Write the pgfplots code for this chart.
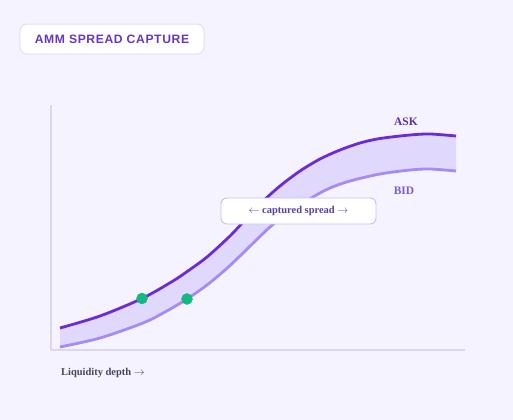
\documentclass[border=0pt]{standalone}
\usepackage{fontspec}
\setmainfont{Liberation Serif}
\newfontfamily\sansf{Liberation Sans}
\usepackage{pgfplots}
\pgfplotsset{compat=1.18}
\usepgfplotslibrary{fillbetween}
\definecolor{bg}{HTML}{F5F3FF}
\definecolor{askc}{HTML}{6D2BD6}
\definecolor{bidc}{HTML}{A68AF5}
\definecolor{fillc}{HTML}{DDD3FD}
\definecolor{axc}{HTML}{DCD7EE}
\definecolor{dotc}{HTML}{14B882}
\definecolor{asklab}{HTML}{5B2BB0}
\definecolor{bidlab}{HTML}{7B5CC8}
\definecolor{spreadtxt}{HTML}{5B3FA0}
\definecolor{titletxt}{HTML}{6737C0}
\definecolor{boxdraw}{HTML}{E3DDF6}
\definecolor{sboxdraw}{HTML}{C9BEF0}
\definecolor{xlab}{HTML}{4B4560}
\begin{document}
\begin{tikzpicture}
\begin{axis}[
  set layers,
  width=414bp, height=245bp, scale only axis,
  xmin=51, xmax=465, ymin=70, ymax=315,
  axis x line*=bottom, axis y line*=left,
  axis line style={draw=axc, line width=1.6bp, -},
  xtick=\empty, ytick=\empty,
  clip=false,
]
\begin{pgfonlayer}{axis background}
\fill[bg] (axis cs:0,0) rectangle (axis cs:513,420);
\end{pgfonlayer}
% ASK curve (pixel x, 420 - pixel y)
\addplot[name path=ask, draw=askc, line width=2.8bp, smooth, tension=0.5] coordinates {
(60,92) (100,104) (142,121.5) (173,139) (190,150.5) (207,163) (230,184) (245,200) (260,216) (280,234) (300,249) (320,261) (340,270) (360,277) (380,281.5) (410,285) (430,286) (456,284)
};
% BID curve
\addplot[name path=bid, draw=bidc, line width=2.8bp, smooth, tension=0.5] coordinates {
(60,73) (100,82) (143,97) (165,108) (187,121) (207,135) (225,150) (240,164) (270,193) (290,208) (313,223) (330,232) (350,239) (380,246) (410,250) (430,251) (456,249)
};
\addplot[fill=fillc, fill opacity=0.8, draw=none] fill between[of=ask and bid];
% Green markers
\addplot[only marks, mark=*, mark size=5.5bp, mark options={fill=dotc, draw=dotc}] coordinates {(142,121.5) (187,121)};
% labels
\node[text=asklab, font=\bfseries\fontsize{11.5}{13}\selectfont] at (axis cs:406,298) {ASK};
\node[text=bidlab, font=\bfseries\fontsize{11.5}{13}\selectfont] at (axis cs:404,229) {BID};
\node[fill=white, draw=sboxdraw, line width=0.9bp, rounded corners=6bp, minimum width=155bp, minimum height=26bp, inner sep=0pt, text=spreadtxt, font=\bfseries\fontsize{10.5}{12}\selectfont] at (axis cs:298.5,209) {$\leftarrow$ captured spread $\rightarrow$};
\node[fill=white, draw=boxdraw, line width=1bp, rounded corners=7bp, minimum width=184bp, minimum height=30bp, inner sep=0pt, text=titletxt, font=\sansf\bfseries\fontsize{12.2}{14}\selectfont\addfontfeatures{LetterSpace=5}] at (axis cs:112,381) {AMM SPREAD CAPTURE};
\node[anchor=west, inner sep=0pt, text=xlab, font=\bfseries\fontsize{10.5}{12}\selectfont] at (axis cs:61,47) {Liquidity depth $\rightarrow$};
\end{axis}
\end{tikzpicture}
\end{document}
